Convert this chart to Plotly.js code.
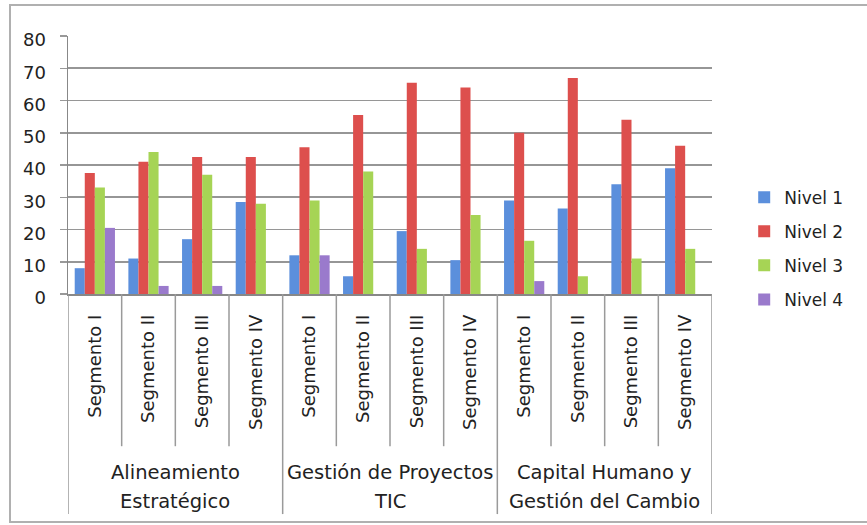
<!DOCTYPE html>
<html>
<head>
<meta charset="utf-8">
<script src="https://cdn.plot.ly/plotly-3.0.1.min.js"></script>
<style>
  html, body { margin: 0; padding: 0; background: #fff; }
  #chart { width: 867px; height: 525px; }
</style>
</head>
<body>
<div id="chart"></div>
<script>
// Area groups (outer level) and segments (inner level)
const areas = [
  ["Alineamiento", "Estratégico"],
  ["Gestión de Proyectos", "TIC"],
  ["Capital Humano y", "Gestión del Cambio"]
];
const segments = ["Segmento I", "Segmento II", "Segmento III", "Segmento IV"];

// Percentage per level, ordered area by area, segment by segment
const nivel1 = [8, 11, 17, 28.5,   12, 5.5, 19.5, 10.5,   29, 26.5, 34, 39];
const nivel2 = [37.5, 41, 42.5, 42.5,   45.5, 55.5, 65.5, 64,   50, 67, 54, 46];
const nivel3 = [33, 44, 37, 28,   29, 38, 14, 24.5,   16.5, 5.5, 11, 14];
const nivel4 = [20.5, 2.5, 2.5, 0,   12, 0, 0, 0,   4, 0, 0, 0];

const seriesNames = ["Nivel 1", "Nivel 2", "Nivel 3", "Nivel 4"];
const yTicks = [0, 10, 20, 30, 40, 50, 60, 70, 80];

// One category key per (area, segment) pair; the tick text shows the segment
const keys = [], tickText = [];
areas.forEach((a, ai) => segments.forEach(s => {
  keys.push(a.join(" ") + " · " + s);
  tickText.push(s);
}));

const colors = ["#5b8fdc", "#dd4f4d", "#a6d455", "#9a7acc"];
const data = [nivel1, nivel2, nivel3, nivel4].map((vals, i) => ({
  type: "bar",
  name: seriesNames[i],
  x: keys,
  y: vals,
  legendgroup: "g" + i,
  marker: { color: colors[i], line: { width: 0 } },
  hoverinfo: "y+name"
}));

// Pixel helpers for the figure frame and the category table below the axis
const L = 68, R = 155, T = 36, B = 230.5, W = 867, H = 525;
const pw = W - L - R, ph = H - T - B;
const px = v => (v - L) / pw;
const py = v => (H - B - v) / ph;

const lineStyle = { color: "#9a9a9a", width: 1.5 };
const shapes = [{
  type: "rect", xref: "paper", yref: "paper",
  x0: px(10), x1: px(880), y0: py(523), y1: py(5),
  line: { color: "#b0b0b0", width: 2 },
  fillcolor: "rgba(0,0,0,0)", layer: "below"
}];

// Vertical separators between categories; area boundaries run deeper
const nCat = keys.length;
const perArea = segments.length;
for (let b = 0; b <= nCat; b++) {
  const isArea = b % perArea === 0;
  shapes.push({
    type: "line", xref: "x", yref: "paper",
    x0: b - 0.5, x1: b - 0.5,
    y0: 0, y1: py(isArea ? 515 : 447),
    line: lineStyle
  });
}

// Area names centred under their segments, one annotation per text line
const annotations = [];
areas.forEach((lines, ai) => {
  const xc = ai * perArea + (perArea - 1) / 2;
  lines.forEach((t, li) => {
    annotations.push({
      xref: "x", yref: "paper",
      x: xc, y: py(473 + li * 29),
      text: t, showarrow: false,
      xanchor: "center", yanchor: "middle",
      font: { family: "DejaVu Sans, sans-serif", size: 19.5, color: "#222" }
    });
  });
});

const layout = {
  width: W, height: H,
  margin: { l: L, r: R, t: T, b: B },
  paper_bgcolor: "#ffffff",
  plot_bgcolor: "#ffffff",
  barmode: "group",
  bargap: 0.25,
  bargroupgap: 0,
  font: { family: "DejaVu Sans, sans-serif", color: "#222" },
  showlegend: true,
  legend: {
    x: 1.05, xanchor: "left",
    y: py(249), yanchor: "middle",
    font: { size: 17, color: "#222" },
    tracegroupgap: 9,
    bgcolor: "rgba(0,0,0,0)"
  },
  xaxis: {
    type: "category",
    categoryorder: "array", categoryarray: keys,
    tickvals: keys, ticktext: tickText,
    range: [-0.5, nCat - 0.5],
    showline: true, linecolor: "#888", linewidth: 1.5,
    ticks: "",
    tickangle: -90,
    ticklabelstandoff: 12,
    tickfont: { size: 18, color: "#222" },
    showgrid: false,
    fixedrange: true
  },
  yaxis: {
    range: [0, 80],
    tickvals: yTicks,
    ticktext: yTicks.map(String),
    showgrid: true, gridcolor: "#969696", gridwidth: 1.6,
    showline: true, linecolor: "#888", linewidth: 1.5,
    ticks: "outside", ticklen: 7, tickcolor: "#999", tickwidth: 1.5,
    ticklabelstandoff: 10,
    ticklabelshift: 4,
    tickfont: { size: 18, color: "#222" },
    zeroline: false,
    fixedrange: true
  },
  shapes: shapes,
  annotations: annotations
};

Plotly.newPlot("chart", data, layout, { displayModeBar: false, staticPlot: true });
</script>
</body>
</html>
